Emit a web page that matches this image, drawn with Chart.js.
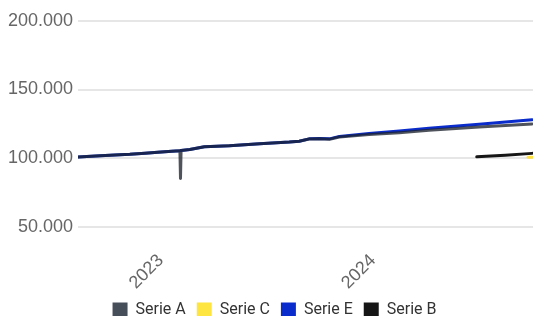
<!DOCTYPE html>
<html>
<head>
<meta charset="utf-8">
<script src="https://cdn.jsdelivr.net/npm/chart.js@4/dist/chart.umd.min.js"></script>
<style>
html,body{margin:0;padding:0;background:#fff;overflow:hidden;}
#wrap{position:absolute;left:0;top:0;width:546px;height:328px;}
</style>
</head>
<body>
<div id="wrap"><canvas id="c"></canvas></div>
<script>
// Dates of Serie A / Serie E observations
const datesAE = ['2022-08-12','2022-09-19','2022-11-09','2022-12-05','2022-12-27','2023-01-20','2023-02-03','2023-02-04','2023-02-05','2023-02-20','2023-03-17','2023-04-29','2023-06-20','2023-08-10','2023-08-27','2023-09-13','2023-10-01','2023-10-18','2023-11-04','2023-12-25','2024-02-15','2024-04-06','2024-07-01','2024-09-30'];
const serieA = [100800,101700,102700,103500,104300,105000,105400,85000,105500,106300,108200,109000,110400,111700,112300,113900,114000,113700,115400,117200,118500,120200,122600,124900];
const serieE = [100800,101700,102700,103500,104300,105000,105400,105450,105500,106300,108300,109000,110400,111700,112300,114000,114200,114000,115800,118000,119800,121800,124600,127900];
// Serie B
const datesB = ['2024-06-27','2024-08-15','2024-09-30'];
const serieB = [100900,102000,103400];
// Serie C
const datesC = ['2024-09-23','2024-09-30'];
const serieC = [100500,100600];
// Axis
const yearTicks = ['2023-01-01','2024-01-01'];
const yearLabels = ['2023','2024'];
const yTicks = [50000,100000,150000,200000];
const xMin = '2022-08-12', xMax = '2024-10-24';

const t = s => Date.parse(s + 'T00:00:00Z');
const pts = (d, v) => d.map((s, i) => ({x: t(s), y: v[i]}));
const yearMs = yearTicks.map(t);
const fmt = v => String(Math.round(v)).replace(/\B(?=(\d{3})+(?!\d))/g, '.');

new Chart(document.getElementById('c'), {
  type: 'line',
  data: {
    datasets: [
      {label:'Serie A', data: pts(datesAE, serieA), borderColor:'rgba(30,36,46,0.78)', backgroundColor:'#464e5a'},
      {label:'Serie C', data: pts(datesC, serieC), borderColor:'#ffe03f', backgroundColor:'#ffe53f'},
      {label:'Serie E', data: pts(datesAE, serieE), borderColor:'#0a2ccc', backgroundColor:'#0a2ccc'},
      {label:'Serie B', data: pts(datesB, serieB), borderColor:'#161616', backgroundColor:'#161616'}
    ]
  },
  options: {
    responsive: true,
    maintainAspectRatio: false,
    animation: false,
    layout: {padding: {left: 3, right: 0, top: 21, bottom: 0}},
    elements: {point: {radius: 0, hoverRadius: 0}, line: {borderWidth: 3, tension: 0, borderCapStyle:'round', borderJoinStyle:'round'}},
    plugins: {
      tooltip: {enabled: false},
      legend: {
        position: 'bottom',
        labels: {
          font: {family: 'Roboto', size: 16},
          color: '#333',
          boxWidth: 15, boxHeight: 15, padding: 11,
          generateLabels: (chart) => chart.data.datasets.map((ds, i) => ({
            text: ds.label, fillStyle: ds.backgroundColor, strokeStyle: ds.backgroundColor,
            lineWidth: 0, hidden: false, datasetIndex: i, fontColor: '#333'
          }))
        }
      }
    },
    scales: {
      x: {
        type: 'linear',
        min: t(xMin), max: t(xMax),
        grid: {display: false},
        border: {display: false},
        afterBuildTicks: (ax) => { ax.ticks = yearMs.map(v => ({value: v})); },
        afterFit: (ax) => { ax.height = 48; },
        ticks: {
          minRotation: 45, maxRotation: 45, autoSkip: false, padding: -1,
          color: '#666', font: {family: 'Liberation Sans', size: 18},
          callback: (v) => { const i = yearMs.indexOf(v); return i >= 0 ? yearLabels[i] : ''; }
        }
      },
      y: {
        min: 38000, max: 200000,
        border: {display: false},
        grid: {color: '#e6e6e6', lineWidth: 2, drawTicks: false},
        afterBuildTicks: (ax) => { ax.ticks = yTicks.map(v => ({value: v})); },
        ticks: {color: '#666', font: {family: 'Liberation Sans', size: 18}, padding: 5, callback: (v) => fmt(v)}
      }
    }
  }
});
</script>
</body>
</html>
